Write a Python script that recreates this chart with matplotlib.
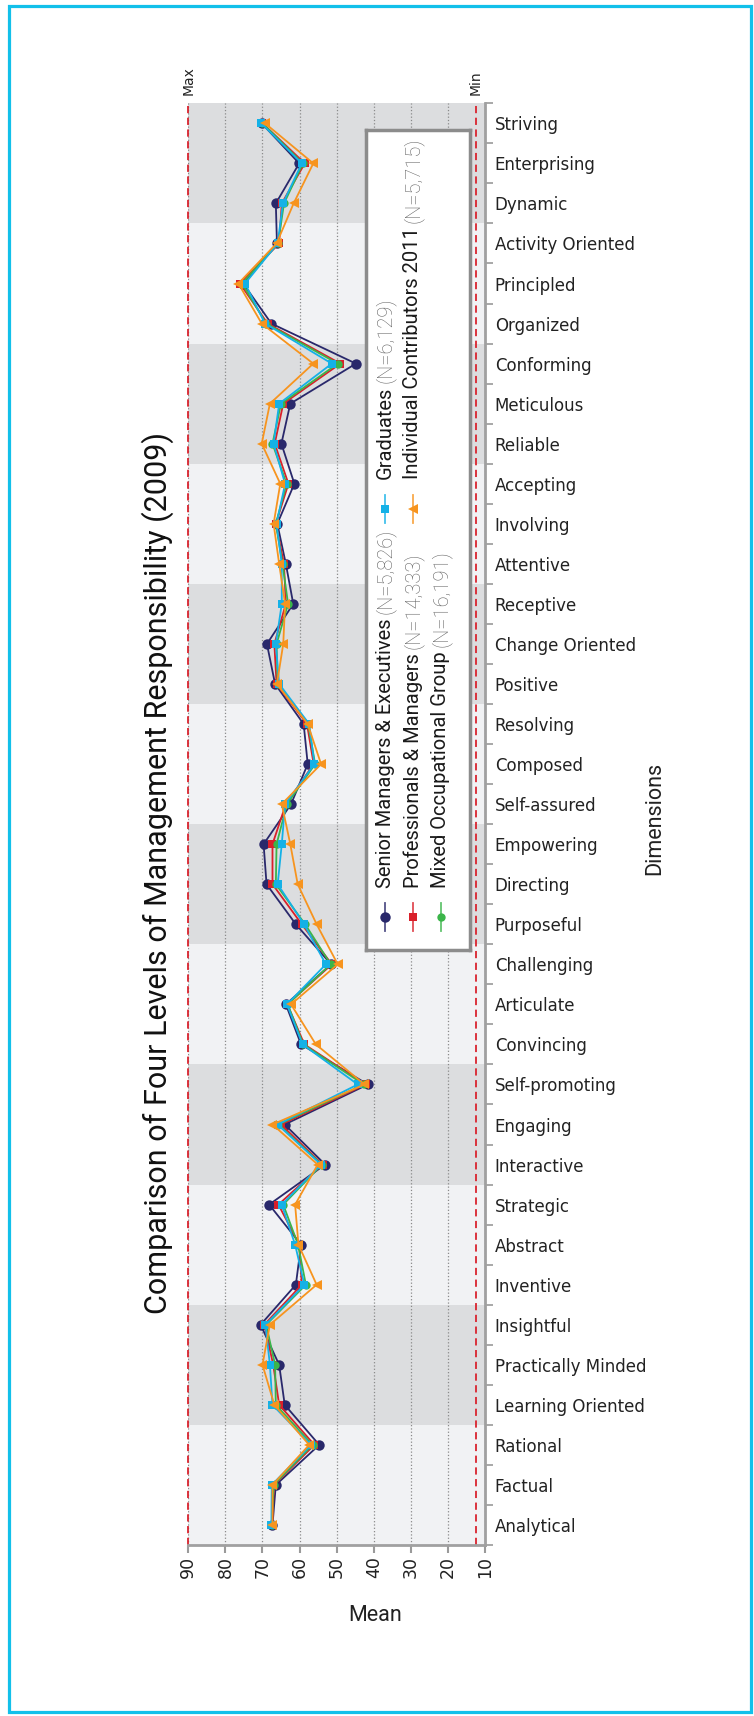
import matplotlib
matplotlib.use('Agg')
import matplotlib.pyplot as plt
import numpy as np
from matplotlib.patches import Rectangle

# dimensions listed bottom (Analytical) to top (Striving)
dimensions = ['Analytical', 'Factual', 'Rational',
              'Learning Oriented', 'Practically Minded', 'Insightful',
              'Inventive', 'Abstract', 'Strategic',
              'Interactive', 'Engaging', 'Self-promoting',
              'Convincing', 'Articulate', 'Challenging',
              'Purposeful', 'Directing', 'Empowering',
              'Self-assured', 'Composed', 'Resolving',
              'Positive', 'Change Oriented', 'Receptive',
              'Attentive', 'Involving', 'Accepting',
              'Reliable', 'Meticulous', 'Conforming',
              'Organized', 'Principled', 'Activity Oriented',
              'Dynamic', 'Enterprising', 'Striving']

senior = [67.3, 66.4, 54.7, 64.0, 65.5, 70.5, 61.0, 59.6, 68.2, 53.1, 64.0, 41.6,
          59.6, 63.7, 51.5, 61.0, 68.9, 69.7, 62.3, 57.8, 58.9, 66.6, 68.8, 61.7,
          63.7, 66.0, 61.4, 64.9, 62.5, 44.8, 67.6, 75.2, 66.1, 66.4, 60.1, 70.2]
professionals = [67.4, 66.9, 56.0, 65.5, 67.1, 69.5, 59.4, 60.1, 65.7, 53.8, 65.0, 42.2,
                 58.7, 63.3, 51.3, 59.4, 67.3, 67.3, 63.7, 56.2, 58.0, 66.2, 66.8, 63.7,
                 64.2, 66.4, 63.0, 66.7, 64.4, 49.0, 68.6, 76.1, 65.5, 64.8, 58.6, 70.0]
mixed = [67.5, 67.0, 56.5, 66.4, 66.6, 69.0, 58.3, 60.4, 64.4, 54.0, 65.7, 42.7,
         59.0, 63.2, 51.6, 58.5, 66.4, 66.2, 63.4, 55.8, 57.7, 65.9, 66.2, 63.1,
         64.6, 66.4, 63.5, 67.3, 65.0, 49.7, 69.0, 75.5, 65.8, 64.2, 59.1, 70.0]
graduates = [67.6, 67.5, 56.9, 67.3, 68.0, 69.2, 58.7, 61.2, 64.8, 54.2, 65.9, 44.3,
             59.2, 63.4, 52.9, 58.8, 65.9, 64.8, 63.9, 56.0, 57.4, 65.5, 66.4, 64.8,
             64.8, 66.2, 63.9, 67.0, 65.5, 51.3, 69.3, 74.7, 65.9, 64.5, 59.4, 70.3]
contributors = [67.3, 67.3, 57.4, 66.8, 70.0, 68.0, 55.4, 60.3, 61.2, 55.1, 67.3, 42.5,
                55.6, 62.3, 49.7, 55.4, 60.5, 62.5, 64.8, 54.2, 57.8, 66.1, 64.4, 63.9,
                65.5, 67.0, 65.2, 70.2, 68.0, 56.3, 70.2, 76.5, 66.2, 61.6, 56.3, 69.3]

series_names = ['Senior Managers & Executives', 'Professionals & Managers',
                'Mixed Occupational Group', 'Graduates', 'Individual Contributors 2011']
series_n = ['(N=5,826)', '(N=14,333)', '(N=16,191)', '(N=6,129)', '(N=5,715)']
series_values = [senior, professionals, mixed, graduates, contributors]
colors = ['#29286b', '#d9202a', '#3bb54a', '#14b1e7', '#f7941e']
markers = ['o', 's', 'o', 's', '<']
msizes = [7.5, 5.5, 6, 5.5, 7]

mean_ticks = [90, 80, 70, 60, 50, 40, 30, 20, 10]
max_line = 90
min_line = 12.4

W, H = 754, 1716
cond = ['Roboto', 'DejaVu Sans']

fig = plt.figure(figsize=(W / 100, H / 100), dpi=100)
ax = fig.add_axes([188.3 / W, 171 / H, 296.7 / W, 1441.7 / H])

# alternating bands, groups of three dimensions
for g in range(0, len(dimensions), 3):
    col = '#dcdddf' if (g // 3) % 2 == 1 else '#f1f2f4'
    ax.axhspan(g - 0.5, g + 2.5, color=col, lw=0, zorder=0)

y = np.arange(len(dimensions))
for vals, c, m, ms in zip(series_values, colors, markers, msizes):
    ax.plot(vals, y, color=c, lw=1.3, marker=m, markersize=ms,
            markeredgewidth=0, zorder=3)

ax.axvline(max_line, color='#d9232e', lw=1.3, dashes=(4, 2.5), clip_on=False, zorder=2)
ax.axvline(min_line, color='#d9232e', lw=1.3, dashes=(4, 2.5), zorder=2)

ax.set_xlim(90, 10)
ax.set_ylim(-0.5, len(dimensions) - 0.5)
ax.set_xticks(mean_ticks)
ax.set_xticklabels([str(t) for t in mean_ticks], rotation=90)
ax.grid(axis='x', linestyle=':', color='#8a8a8a', lw=0.9)
ax.set_axisbelow(True)

ax.set_yticks(y)
ax.set_yticklabels(dimensions)
ax.set_yticks(np.arange(-0.5, len(dimensions)), minor=True)
ax.yaxis.tick_right()
ax.tick_params(axis='x', length=6, width=1.5, color='#9a9a9a', pad=2,
               labelsize=12.5, labelcolor='#222222')
ax.tick_params(axis='y', which='major', length=0, pad=7, labelsize=12,
               labelcolor='#222222')
ax.tick_params(axis='y', which='minor', length=6, width=1.2, color='#9a9a9a')
for s in ['left', 'top']:
    ax.spines[s].set_visible(False)
for s in ['bottom', 'right']:
    ax.spines[s].set_color('#a0a0a0')
    ax.spines[s].set_linewidth(2)

ax.set_xlabel('Mean', fontsize=15.5, family=cond, color='#222222')
ax.xaxis.set_label_coords(0.629, -0.049)
ax.xaxis.label.set_va('center')
ax.yaxis.set_label_position('right')
ax.set_ylabel('Dimensions', fontsize=15.5, family=cond, color='#222222', rotation=90)
ax.yaxis.set_label_coords(1.573, 0.504)
ax.yaxis.label.set_va('center')

fig.text(188.3 / W, 1 - 95 / H, 'Max', rotation=90, ha='center', va='bottom',
         fontsize=10, color='#222222')
fig.text(476 / W, 1 - 95 / H, 'Min', rotation=90, ha='center', va='bottom',
         fontsize=10, color='#222222')

title = fig.text(158 / W, 1 - 872.5 / H,
                 'Comparison of Four Levels of Management Responsibility (2009)',
                 rotation=90, ha='center', va='center', fontsize=20, family=cond,
                 color='#111111')

# legend drawn by hand, rotated
lax = fig.add_axes([366 / W, 1 - 950 / H, 104 / W, 820 / H])
lax.set_xlim(0, 1)
lax.set_ylim(0, 1)
lax.set_xticks([])
lax.set_yticks([])
for s in lax.spines.values():
    s.set_color('#8c8c8c')
    s.set_linewidth(2.5)
lax.set_zorder(5)

slots = [(0.185, 0.040), (0.45, 0.040), (0.72, 0.040), (0.185, 0.538), (0.45, 0.538)]
main_texts = []
for (xp, yp), name, c, m, ms in zip(slots, series_names, colors, markers, msizes):
    lax.plot([xp, xp], [yp - 0.017, yp + 0.017], color=c, lw=1.3, alpha=0.8)
    lax.plot([xp], [yp], color=c, marker=m, markersize=ms, markeredgewidth=0)
    t = lax.text(xp, yp + 0.036, name, rotation=90, rotation_mode='anchor',
                 ha='left', va='center', fontsize=14.5, family=cond, color='#1a1a1a')
    main_texts.append(t)

fig.canvas.draw()
renderer = fig.canvas.get_renderer()

# stretch title to the reference length
bb = title.get_window_extent(renderer)
title.set_fontsize(title.get_fontsize() * 881 / bb.height)

for t, nlab in zip(main_texts, series_n):
    bb = t.get_window_extent(renderer)
    ytop = lax.transData.inverted().transform((0, bb.y1 + 4))[1]
    xp = t.get_position()[0]
    lax.text(xp, ytop, nlab, rotation=90, rotation_mode='anchor', ha='left',
             va='center', fontsize=14.5, family=cond, fontweight='light',
             color='#606060')

fig.patches.append(Rectangle((8.5 / W, 1 - 1712 / H), (751 - 8.5) / W, (1712 - 6.2) / H,
                             transform=fig.transFigure, fill=False,
                             edgecolor='#12c0ea', lw=2.3))

fig.savefig('out.png', dpi=100)
